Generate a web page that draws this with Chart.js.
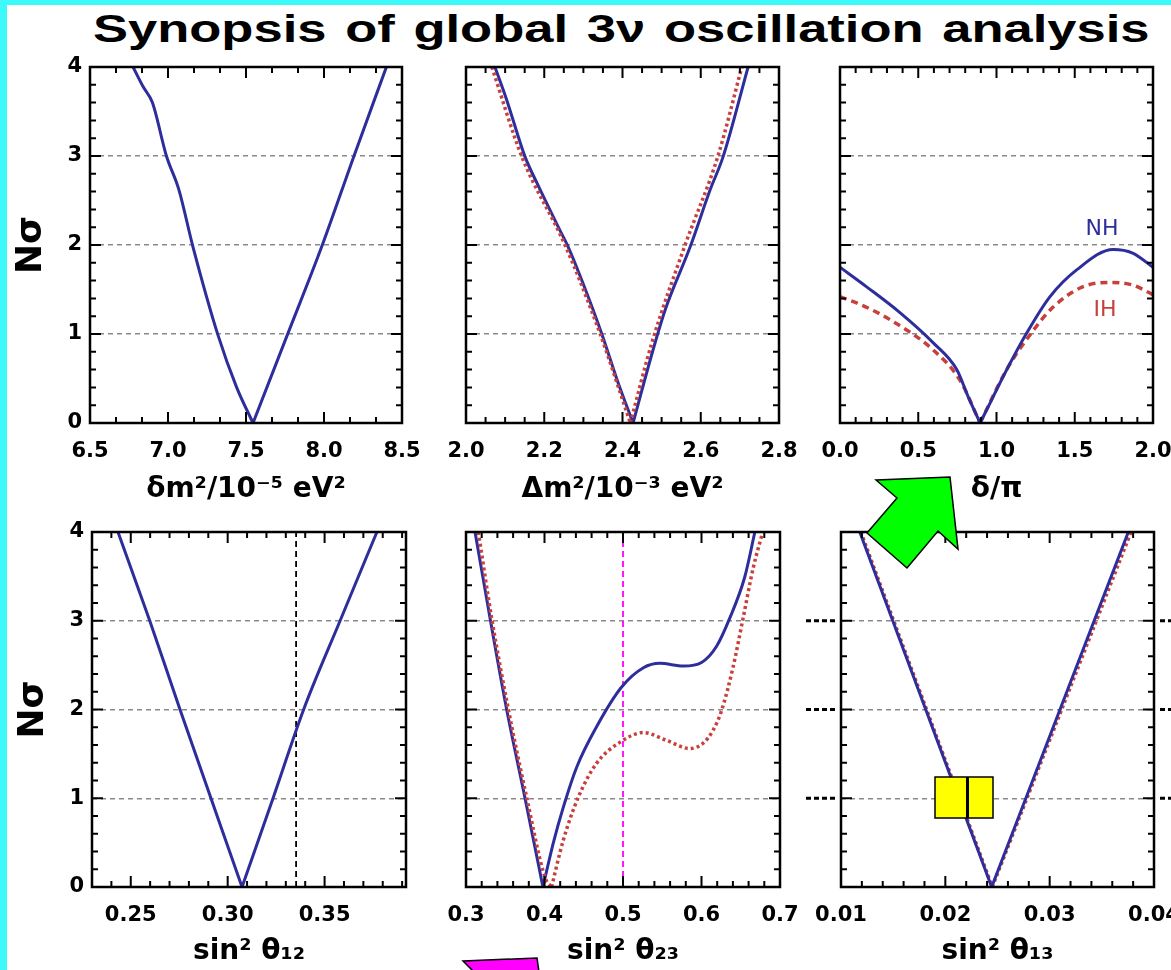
<!DOCTYPE html>
<html>
<head>
<meta charset="utf-8">
<script src="https://cdn.jsdelivr.net/npm/chart.js@4.4.1/dist/chart.umd.min.js"></script>
<style>
  html, body { margin: 0; padding: 0; }
  body { width: 1171px; height: 970px; background: #3cfafa; overflow: hidden; position: relative; }
  #sheet { position: absolute; left: 7px; top: 5px; width: 1164px; bottom: 0; background: #fff; }
  #title { position: absolute; left: 93px; top: 10px; font: bold 38px "Liberation Sans", Arial, sans-serif;
           line-height: 38px; word-spacing: 3px; white-space: nowrap; transform-origin: 0 0; color: #000; }
  canvas { position: absolute; }
  svg { position: absolute; left: 0; top: 0; }
</style>
</head>
<body>
<div id="sheet"></div>
<div id="title">Synopsis of global 3ν oscillation analysis</div>
<canvas id="pDmSol"></canvas>
<canvas id="pDmAtm"></canvas>
<canvas id="pDelta"></canvas>
<canvas id="pS12"></canvas>
<canvas id="pS23"></canvas>
<canvas id="pS13"></canvas>
<svg width="1171" height="970">
  <polygon points="876,480 950,477 958,549 938,531 907,568 867,533 897,498" fill="#00ff00" stroke="#000" stroke-width="1.5"/>
  <polygon points="463,961 537,958 539,972 474,972" fill="#ff00ff" stroke="#000" stroke-width="1.5"/>
  <rect x="935" y="777" width="58" height="41" fill="#ffff00" stroke="#000" stroke-width="1.5"/>
  <line x1="967.5" y1="777" x2="967.5" y2="818" stroke="#000" stroke-width="3"/>
</svg>
<script>
// ---- tick labels ----
const dmSolTicks = ['6.5', '7.0', '7.5', '8.0', '8.5'];
const dmAtmTicks = ['2.0', '2.2', '2.4', '2.6', '2.8'];
const deltaTicks = ['0.0', '0.5', '1.0', '1.5', '2.0'];
const s12Ticks   = ['0.25', '0.30', '0.35'];
const s23Ticks   = ['0.3', '0.4', '0.5', '0.6', '0.7'];
const s13Ticks   = ['0.01', '0.02', '0.03', '0.04'];
const nsigmaTicks = ['0', '1', '2', '3', '4'];

// ---- δm² (solar splitting) ----
const dmSolX  = [6.776, 6.84, 6.90, 6.99, 7.07, 7.16, 7.32, 7.44, 7.545, 7.765, 7.985, 8.19, 8.40];
const dmSolNS = [4.00, 3.78, 3.60, 3.00, 2.62, 1.98, 0.99, 0.40, 0.00, 0.99, 1.98, 2.99, 4.00];

// ---- Δm² (atmospheric splitting), normal and inverted ordering ----
const dmAtmXNH  = [2.074, 2.104, 2.151, 2.181, 2.236, 2.261, 2.299, 2.348, 2.389, 2.427, 2.478, 2.509, 2.573, 2.624, 2.657, 2.721];
const dmAtmNSNH = [4.00, 3.63, 2.99, 2.70, 2.20, 1.98, 1.57, 0.99, 0.45, 0.00, 0.82, 1.27, 1.98, 2.62, 2.99, 4.00];
const dmAtmXIH  = [2.066, 2.142, 2.253, 2.343, 2.420, 2.475, 2.560, 2.644, 2.705];
const dmAtmNSIH = [4.00, 3.00, 2.00, 1.00, 0.00, 0.90, 2.00, 3.00, 4.00];

// ---- δ/π ----
const deltaXNH  = [0.00, 0.17, 0.383, 0.596, 0.746, 0.82, 0.895, 0.958, 1.022, 1.193, 1.342, 1.512, 1.745, 1.87, 2.00];
const deltaNSNH = [1.75, 1.53, 1.24, 0.90, 0.60, 0.29, 0.00, 0.22, 0.45, 1.01, 1.42, 1.72, 1.95, 1.91, 1.75];
const deltaXIH  = [0.00, 0.17, 0.32, 0.596, 0.767, 0.895, 1.065, 1.235, 1.36, 1.55, 1.725, 1.87, 1.98, 2.00];
const deltaNSIH = [1.42, 1.30, 1.16, 0.82, 0.48, 0.00, 0.60, 1.04, 1.30, 1.53, 1.58, 1.55, 1.46, 1.44];

// ---- sin²θ12 ----
const s12X  = [0.2434, 0.2598, 0.2754, 0.3074, 0.3234, 0.3392, 0.358, 0.377];
const s12NS = [4.00, 3.00, 2.00, 0.00, 1.00, 2.00, 3.00, 4.00];
const s12Ref = 0.3353;

// ---- sin²θ23 ----
const s23XNH  = [0.3115, 0.3306, 0.3518, 0.375, 0.398, 0.411, 0.424, 0.441, 0.466, 0.498, 0.526, 0.547, 0.577, 0.600, 0.619, 0.636, 0.655, 0.668];
const s23NSNH = [4.00, 3.03, 2.00, 1.01, 0.00, 0.49, 0.90, 1.35, 1.80, 2.25, 2.47, 2.52, 2.49, 2.53, 2.71, 3.03, 3.49, 4.00];
const s23XIH  = [0.3157, 0.3327, 0.354, 0.3773, 0.401, 0.409, 0.424, 0.443, 0.466, 0.496, 0.526, 0.556, 0.585, 0.602, 0.615, 0.626, 0.640, 0.653, 0.666, 0.678];
const s23NSIH = [4.00, 3.03, 2.00, 1.01, 0.10, 0.00, 0.53, 1.01, 1.39, 1.63, 1.74, 1.65, 1.56, 1.62, 1.77, 2.00, 2.47, 3.03, 3.60, 4.00];
const s23Ref = 0.5;

// ---- sin²θ13 ----
const s13XNH  = [0.0118, 0.02444, 0.03754];
const s13NSNH = [4.00, 0.00, 4.00];
const s13XIH  = [0.0119, 0.0245, 0.0378];
const s13NSIH = [4.00, 0.00, 4.00];

// ---- styling ----
const BLUE = '#2d2d9c';
const RED = '#c8403c';
const FONT = '"DejaVu Sans", "Liberation Sans", sans-serif';
Chart.defaults.font.family = FONT;
Chart.defaults.color = '#000';

const YW = 90, PT = 12, PR = 30, XH = 100;

const pts = (xs, ys) => xs.map((x, i) => ({ x, y: ys[i] }));

// A Δχ profile is smooth on each side of its best fit but has a cusp at the
// minimum, so each side is drawn as its own smoothed dataset.
function profile(xs, ys, style) {
  const k = ys.indexOf(Math.min(...ys));
  const base = { pointRadius: 0, cubicInterpolationMode: 'monotone', ...style };
  return [
    { ...base, data: pts(xs.slice(0, k + 1), ys.slice(0, k + 1)) },
    { ...base, data: pts(xs.slice(k), ys.slice(k)) }
  ];
}
const nhSet = (xs, ys) => profile(xs, ys, { borderColor: BLUE, borderWidth: 3 });
const ihSet = (xs, ys, dash) => profile(xs, ys, { borderColor: RED, borderWidth: 3.5, borderDash: dash });
const refLine = (x, color, dash) => [{ data: [{ x, y: 0 }, { x, y: 4 }], borderColor: color, borderWidth: 1.8, borderDash: dash, pointRadius: 0 }];

// Box frame with inward ticks on all four sides
const framePlugin = {
  id: 'frame',
  afterDraw(chart, args, o) {
    const { ctx, chartArea: a, scales: { x, y } } = chart;
    ctx.save();
    ctx.strokeStyle = '#000';
    ctx.lineWidth = 2;
    const run = (scale, lo, step, majors, cb) => {
      const n = Math.round((scale.max - lo) / step);
      for (let i = 0; i <= n; i++) {
        const v = lo + i * step;
        const major = majors.some(m => Math.abs(m - v) < step * 0.01);
        cb(scale.getPixelForValue(v), major ? 11 : 6);
      }
    };
    const xMaj = o.xTicks.map(Number);
    run(x, o.xStart, o.xMinor, xMaj, (p, len) => {
      ctx.beginPath();
      ctx.moveTo(p, a.bottom); ctx.lineTo(p, a.bottom - len);
      ctx.moveTo(p, a.top); ctx.lineTo(p, a.top + len);
      ctx.stroke();
    });
    run(y, 0, 0.2, [0, 1, 2, 3, 4], (p, len) => {
      ctx.beginPath();
      ctx.moveTo(a.left, p); ctx.lineTo(a.left + len, p);
      ctx.moveTo(a.right, p); ctx.lineTo(a.right - len, p);
      ctx.stroke();
    });
    ctx.lineWidth = 2.5;
    ctx.strokeRect(a.left, a.top, a.right - a.left, a.bottom - a.top);
    // hierarchy tags
    (o.tags || []).forEach(t => {
      ctx.font = '22px ' + FONT;
      ctx.fillStyle = t.color;
      ctx.textAlign = 'center';
      ctx.textBaseline = 'middle';
      ctx.fillText(t.text, x.getPixelForValue(t.x), y.getPixelForValue(t.y));
    });
    // short level markers outside the box
    if (o.sideMarks) {
      ctx.lineWidth = 3;
      ctx.setLineDash([5, 3]);
      [1, 2, 3].forEach(v => {
        const p = y.getPixelForValue(v);
        ctx.beginPath();
        ctx.moveTo(a.left - 35, p); ctx.lineTo(a.left - 3, p);
        ctx.moveTo(a.right + 6, p); ctx.lineTo(a.right + 30, p);
        ctx.stroke();
      });
    }
    ctx.restore();
  }
};

function panel(id, area, cfg) {
  const cv = document.getElementById(id);
  const w = area.r - area.l + YW + PR;
  const h = area.b - area.t + PT + XH;
  cv.width = w; cv.height = h;
  cv.style.left = (area.l - YW) + 'px';
  cv.style.top = (area.t - PT) + 'px';
  const xVals = cfg.xTicks.map(Number);
  return new Chart(cv, {
    type: 'line',
    data: { datasets: cfg.datasets.flat() },
    plugins: [framePlugin],
    options: {
      responsive: false, animation: false,
      layout: { padding: { left: 0, top: PT, right: PR, bottom: 0 } },
      plugins: {
        legend: { display: false }, tooltip: { enabled: false },
        frame: { xTicks: cfg.xTicks, xStart: cfg.xStart, xMinor: cfg.xMinor, tags: cfg.tags, sideMarks: cfg.sideMarks }
      },
      scales: {
        x: {
          type: 'linear', min: cfg.xMin, max: cfg.xMax,
          afterFit: s => { s.height = XH; s.paddingLeft = 0; s.paddingRight = 0; },
          afterBuildTicks: s => { s.ticks = xVals.map(v => ({ value: v })); },
          ticks: { callback: (v, i) => cfg.xTicks[i], font: { size: 21, weight: 'bold' }, padding: 8, maxRotation: 0, autoSkip: false },
          grid: { display: false },
          border: { display: false },
          title: { display: true, text: cfg.xTitle, font: { size: 28, weight: 'bold' }, padding: { top: 0, bottom: cfg.titlePad } }
        },
        y: {
          min: 0, max: 4,
          afterFit: s => { s.width = YW; s.paddingTop = 0; s.paddingBottom = 0; },
          afterBuildTicks: s => { s.ticks = nsigmaTicks.map(v => ({ value: Number(v) })); },
          ticks: { display: cfg.yLabels, callback: (v, i) => nsigmaTicks[i], font: { size: 21, weight: 'bold' }, padding: 8 },
          grid: { color: c => (c.tick && [1, 2, 3].includes(c.tick.value)) ? '#8a8a8a' : 'rgba(0,0,0,0)', lineWidth: 1.5, drawTicks: false },
          border: { display: false, dash: [5, 4] },
          title: { display: cfg.yLabels, text: 'Nσ', font: { size: 36, weight: 'bold' }, padding: { top: 10, bottom: 0 } }
        }
      }
    }
  });
}

panel('pDmSol', { l: 90, t: 67, r: 402, b: 423 }, {
  xMin: 6.5, xMax: 8.5, xTicks: dmSolTicks, xStart: 6.5, xMinor: 0.5 / 3,
  xTitle: 'δm²/10⁻⁵ eV²', titlePad: 16, yLabels: true,
  datasets: [nhSet(dmSolX, dmSolNS)]
});
panel('pDmAtm', { l: 466, t: 67, r: 779, b: 423 }, {
  xMin: 2.0, xMax: 2.8, xTicks: dmAtmTicks, xStart: 2.0, xMinor: 0.05,
  xTitle: 'Δm²/10⁻³ eV²', titlePad: 16, yLabels: false,
  datasets: [ihSet(dmAtmXIH, dmAtmNSIH, [3, 3]), nhSet(dmAtmXNH, dmAtmNSNH)]
});
panel('pDelta', { l: 840, t: 67, r: 1153, b: 423 }, {
  xMin: 0, xMax: 2, xTicks: deltaTicks, xStart: 0, xMinor: 0.1,
  xTitle: 'δ/π', titlePad: 16, yLabels: false,
  tags: [{ text: 'NH', x: 1.674, y: 2.18, color: BLUE }, { text: 'IH', x: 1.693, y: 1.27, color: RED }],
  datasets: [nhSet(deltaXNH, deltaNSNH), ihSet(deltaXIH, deltaNSIH, [7, 5])]
});
panel('pS12', { l: 92, t: 532, r: 406, b: 887 }, {
  xMin: 0.23, xMax: 0.392, xTicks: s12Ticks, xStart: 0.23, xMinor: 0.01,
  xTitle: 'sin² θ₁₂', titlePad: 18, yLabels: true,
  datasets: [nhSet(s12X, s12NS), refLine(s12Ref, '#000', [6, 4])]
});
panel('pS23', { l: 466, t: 532, r: 780, b: 887 }, {
  xMin: 0.3, xMax: 0.7, xTicks: s23Ticks, xStart: 0.3, xMinor: 0.02,
  xTitle: 'sin² θ₂₃', titlePad: 18, yLabels: false,
  datasets: [ihSet(s23XIH, s23NSIH, [3, 3]), nhSet(s23XNH, s23NSNH), refLine(s23Ref, '#ff00ff', [6, 4])]
});
panel('pS13', { l: 841, t: 532, r: 1154, b: 887 }, {
  xMin: 0.01, xMax: 0.04, xTicks: s13Ticks, xStart: 0.01, xMinor: 0.002,
  xTitle: 'sin² θ₁₃', titlePad: 18, yLabels: false, sideMarks: true,
  datasets: [nhSet(s13XNH, s13NSNH), ihSet(s13XIH, s13NSIH, [3, 3])]
});

// stretch the heading across the sheet
const title = document.getElementById('title');
title.style.transform = 'scaleX(' + (1057 / title.offsetWidth) + ')';
</script>
</body>
</html>
